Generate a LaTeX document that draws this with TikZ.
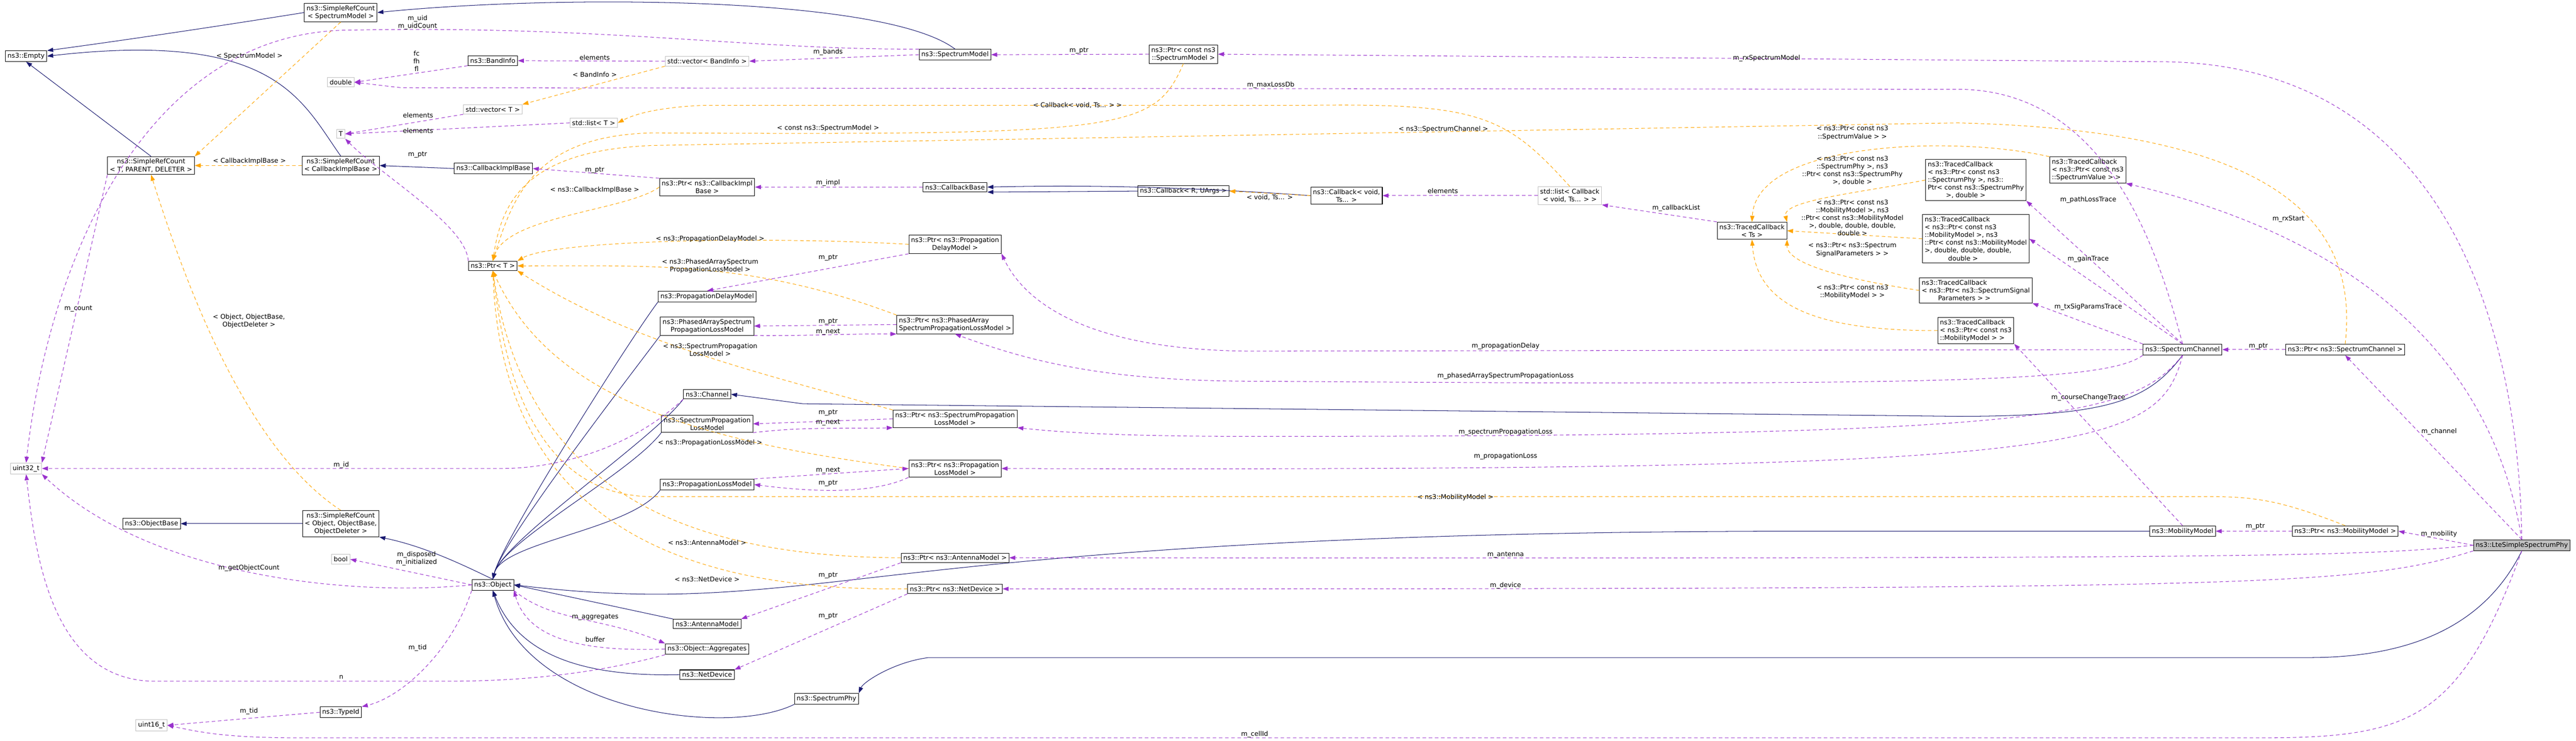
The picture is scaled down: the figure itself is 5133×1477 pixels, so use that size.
\documentclass[tikz,border=0pt]{standalone}
\usepackage{fontspec}
\setmainfont{DejaVu Sans}
\usetikzlibrary{arrows.meta,positioning,calc}

\definecolor{inhcol}{HTML}{191970}
\definecolor{memcol}{HTML}{9A32CD}
\definecolor{tplcol}{HTML}{FFA500}
\definecolor{extcol}{HTML}{BFBFBF}

\tikzset{
  cls/.style={draw=black,fill=white,line width=0.6pt,inner sep=2.5pt,align=center,font=\fontsize{7.4}{8.8}\selectfont},
  clsl/.style={cls,align=left},
  extcls/.style={cls,draw=extcol},
  maincls/.style={cls,fill=extcol},
  lbl/.style={inner sep=0pt,align=center,font=\fontsize{7.4}{8.8}\selectfont},
  inh/.style={draw=inhcol,line width=0.6pt,-{Triangle[length=0.24cm,width=0.17cm]}},
  mem/.style={draw=memcol,line width=0.6pt,dash pattern=on 4pt off 3pt,-{Triangle[length=0.24cm,width=0.17cm]}},
  tpl/.style={draw=tplcol,line width=0.6pt,dash pattern=on 4pt off 3pt,-{Triangle[length=0.24cm,width=0.17cm]}},
}

\begin{document}
\begin{tikzpicture}[x=0.02cm,y=-0.02cm]
\useasboundingbox (0,0) rectangle (5133,1477);

% classes, left part
\node[cls] (empty) at (52,112) {ns3::Empty};
\node[cls] (srcsm) at (679,25) {ns3::SimpleRefCount\\< SpectrumModel >};
\node[extcls] (dbl) at (679,164) {double};
\node[cls] (band) at (982,121) {ns3::BandInfo};
\node[extcls] (vect) at (982,218) {std::vector< T >};
\node[extcls] (listt) at (1183,245) {std::list< T >};
\node[extcls] (tt) at (679,267) {T};
\node[cls] (srctpd) at (301,330) {ns3::SimpleRefCount\\< T, PARENT, DELETER >};
\node[cls] (srccib) at (679,330) {ns3::SimpleRefCount\\< CallbackImplBase >};
\node[cls] (cib) at (983,336) {ns3::CallbackImplBase};
\node[extcls] (vecband) at (1409,122) {std::vector< BandInfo >};
\node[cls] (smodel) at (1903,109) {ns3::SpectrumModel};
\node[cls] (ptrsm) at (2358,108) {ns3::Ptr< const ns3\\::SpectrumModel >};
\node[cls] (ptrcib) at (1409,373) {ns3::Ptr< ns3::CallbackImpl\\Base >};
\node[cls] (cbbase) at (1903,373) {ns3::CallbackBase};
\node[cls] (cbru) at (2358,381) {ns3::Callback< R, UArgs >};
\node[cls] (cbvoid) at (2683,390) {ns3::Callback< void,\\Ts... >};
\node[extcls] (listcb) at (3128,390) {std::list< Callback\\< void, Ts... > >};
\node[cls] (tcts) at (3491,460) {ns3::TracedCallback\\< Ts >};
\node[cls] (ptrt) at (982,530) {ns3::Ptr< T >};

% propagation models
\node[cls] (ptrpdm) at (1903,487) {ns3::Ptr< ns3::Propagation\\DelayModel >};
\node[cls] (pdm) at (1409,591) {ns3::PropagationDelayModel};
\node[cls] (pasplm) at (1409,650) {ns3::PhasedArraySpectrum\\PropagationLossModel};
\node[clsl] (ptrpa) at (1903,647) {ns3::Ptr< ns3::PhasedArray\\SpectrumPropagationLossModel >};
\node[cls] (channel) at (1409,786) {ns3::Channel};
\node[cls] (splm) at (1409,845) {ns3::SpectrumPropagation\\LossModel};
\node[cls] (ptrsplm) at (1903,835) {ns3::Ptr< ns3::SpectrumPropagation\\LossModel >};
\node[cls] (ptrplm) at (1903,934) {ns3::Ptr< ns3::Propagation\\LossModel >};
\node[cls] (plm) at (1409,966) {ns3::PropagationLossModel};

% object
\node[extcls] (uint32) at (52,934) {uint32\_t};
\node[cls] (objbase) at (302,1044) {ns3::ObjectBase};
\node[cls] (srcobj) at (679,1044) {ns3::SimpleRefCount\\< Object, ObjectBase,\\ObjectDeleter >};
\node[extcls] (bool) at (679,1115) {bool};
\node[cls] (object) at (982,1166) {ns3::Object};
\node[cls] (typeid) at (679,1420) {ns3::TypeId};
\node[extcls] (uint16) at (302,1446) {uint16\_t};
\node[cls] (antenna) at (1409,1244) {ns3::AntennaModel};
\node[cls] (aggr) at (1409,1294) {ns3::Object::Aggregates};
\node[cls] (netdev) at (1409,1345) {ns3::NetDevice};
\node[cls] (sphy) at (1647,1393) {ns3::SpectrumPhy};
\node[cls] (ptrant) at (1903,1112) {ns3::Ptr< ns3::AntennaModel >};
\node[cls] (ptrnd) at (1903,1174) {ns3::Ptr< ns3::NetDevice >};

% traced callbacks and channel
\node[clsl] (tcsv) at (4160,339) {ns3::TracedCallback\\< ns3::Ptr< const ns3\\ ::SpectrumValue > >};
\node[clsl] (tcsp) at (3937,359) {ns3::TracedCallback\\< ns3::Ptr< const ns3\\::SpectrumPhy >, ns3::\\Ptr< const ns3::SpectrumPhy\\\hspace*{2.8em}>, double >};
\node[clsl] (tcmob4) at (3937,476) {ns3::TracedCallback\\< ns3::Ptr< const ns3\\::MobilityModel >, ns3\\::Ptr< const ns3::MobilityModel\\ >, double, double, double,\\\hspace*{3.6em}double >};
\node[clsl] (tcssp) at (3937,579) {ns3::TracedCallback\\< ns3::Ptr< ns3::SpectrumSignal\\\hspace*{2.5em}Parameters > >};
\node[clsl] (tcmob) at (3937,659) {ns3::TracedCallback\\< ns3::Ptr< const ns3\\ ::MobilityModel > >};
\node[cls] (schan) at (4349,697) {ns3::SpectrumChannel};
\node[cls] (ptrsc) at (4673,697) {ns3::Ptr< ns3::SpectrumChannel >};
\node[cls] (mob) at (4349,1059) {ns3::MobilityModel};
\node[cls] (ptrmob) at (4673,1059) {ns3::Ptr< ns3::MobilityModel >};
\node[maincls] (lte) at (5025,1087) {ns3::LteSimpleSpectrumPhy};

% inheritance
\draw[inh] (srcsm.west) .. controls (450,50) and (250,80) .. (empty.north east);
\draw[inh] (srccib.north) .. controls (600,200) and (550,60) .. (empty.east);
\draw[inh] (srctpd.north) -- (empty.south);
\draw[inh] (smodel.north) .. controls (1760,-10) and (1100,-10) .. (srcsm.east);
\draw[inh] (cib.west) -- (srccib.east);
\draw[inh] (cbvoid.west) .. controls (2300,368) and (2100,370) .. (cbbase.east);
\draw[inh] (cbru.west) -- (cbbase.south east);
\draw[inh] (srcobj.west) -- (objbase.east);
\draw[inh] (object.north) .. controls (930,1130) and (850,1090) .. (srcobj.south east);
\foreach \n in {pdm,pasplm,channel,splm,plm} {
  \draw[inh] (\n.south west) .. controls ($(\n.south west)+(-60,80)$) and (1000,1080) .. (object.north);
}
\draw[inh] (antenna.north west) -- (object.east);
\draw[inh] (netdev.west) .. controls (1150,1350) and (1030,1300) .. (object.south);
\draw[inh] (sphy.south west) .. controls (1450,1470) and (1050,1420) .. (object.south);
\draw[inh] (mob.west) -- (3600,1059) .. controls (1700,1059) and (1650,1240) .. (object.east);
\draw[inh] (schan.south) .. controls (4280,800) and (4200,830) .. (3900,830) -- (1600,805) -- (channel.east);
\draw[inh] (lte.south) .. controls (4950,1250) and (4800,1311) .. (4600,1311) -- (1850,1311) .. controls (1780,1320) and (1720,1360) .. (sphy.north east);

% templates
\draw[tpl] (srcsm.south) -- (srctpd.north east);
\draw[tpl] (srccib.west) -- (srctpd.east);
\draw[tpl] (srcobj.north) .. controls (500,900) and (380,600) .. (srctpd.south);
\draw[tpl] (vecband.south west) -- (vect.north east);
\draw[tpl] (listcb.north) .. controls (3000,230) and (2950,205) .. (2600,210) -- (1400,210) .. controls (1300,215) and (1260,230) .. (listt.east);
\draw[tpl] (cbvoid.west) -- (cbru.east);
\draw[tpl] (ptrsm.south) .. controls (2300,260) and (2250,270) .. (1300,265) .. controls (1060,270) and (1020,400) .. (ptrt.north);
\draw[tpl] (ptrcib.west) .. controls (1250,420) and (1010,430) .. (ptrt.north);
\draw[tpl] (ptrpdm.west) .. controls (1500,470) and (1100,480) .. (ptrt.north east);
\draw[tpl] (ptrpa.north west) .. controls (1500,520) and (1300,530) .. (ptrt.east);
\draw[tpl] (ptrsplm.north west) .. controls (1500,740) and (1250,680) .. (ptrt.south east);
\draw[tpl] (ptrplm.west) .. controls (1400,880) and (1100,800) .. (ptrt.south);
\draw[tpl] (ptrant.west) .. controls (1400,1110) and (1050,1000) .. (ptrt.south);
\draw[tpl] (ptrnd.west) .. controls (1300,1180) and (1000,1000) .. (ptrt.south);
\draw[tpl] (ptrmob.north) .. controls (4550,1000) and (4500,990) .. (4400,990) -- (1300,990) .. controls (1050,990) and (1000,700) .. (ptrt.south);
\draw[tpl] (ptrsc.north) .. controls (4700,450) and (4550,260) .. (3900,245) -- (1300,290) .. controls (1050,300) and (1000,400) .. (ptrt.north);
\draw[tpl] (tcsv.north west) .. controls (3900,270) and (3500,280) .. (tcts.north);
\draw[tpl] (tcsp.west) .. controls (3700,385) and (3550,400) .. (tcts.north east);
\draw[tpl] (tcmob4.west) -- (tcts.east);
\draw[tpl] (tcssp.west) .. controls (3700,560) and (3560,530) .. (tcts.south east);
\draw[tpl] (tcmob.west) .. controls (3600,660) and (3500,600) .. (tcts.south);

% members
\draw[mem] (smodel.north west) .. controls (1500,100) and (1200,50) .. (700,60) .. controls (300,60) and (100,500) .. (uint32.north);
\draw[mem] (band.south west) -- (dbl.east);
\draw[mem] (vecband.west) -- (band.east);
\draw[mem] (smodel.west) -- (vecband.east);
\draw[mem] (ptrsm.west) -- (smodel.east);
\draw[mem] (vect.south west) -- (tt.east);
\draw[mem] (listt.west) -- (tt.east);
\draw[mem] (ptrt.north west) .. controls (930,450) and (760,350) .. (tt.south east);
\draw[mem] (ptrcib.north west) -- (cib.east);
\draw[mem] (cbbase.west) -- (ptrcib.east);
\draw[mem] (listcb.west) -- (cbvoid.east);
\draw[mem] (tcts.north west) -- (listcb.south east);
\draw[mem] (ptrpdm.south west) -- (pdm.north);
\draw[mem] (ptrpa.west) -- (pasplm.east);
\draw[mem] (pasplm.south east) .. controls (1600,670) and (1700,665) .. (ptrpa.south west);
\draw[mem] (ptrsplm.west) -- (splm.east);
\draw[mem] (splm.south east) .. controls (1600,850) and (1700,855) .. (ptrsplm.south west);
\draw[mem] (plm.north east) -- (ptrplm.west);
\draw[mem] (ptrplm.south west) .. controls (1750,980) and (1650,985) .. (plm.east);
\draw[mem] (ptrant.south west) -- (antenna.north east);
\draw[mem] (ptrnd.south west) -- (netdev.north east);
\draw[mem] (object.south east) .. controls (1100,1240) and (1200,1230) .. (aggr.north west);
\draw[mem] (aggr.west) .. controls (1150,1300) and (1050,1270) .. (object.south east);
\draw[mem] (object.west) -- (bool.east);
\draw[mem] (object.west) .. controls (700,1190) and (300,1150) .. (uint32.south east);
\draw[mem] (object.south west) .. controls (900,1300) and (800,1390) .. (typeid.north east);
\draw[mem] (typeid.west) -- (uint16.east);
\draw[mem] (srctpd.south west) -- (uint32.north east);
\draw[mem] (channel.south west) .. controls (1250,900) and (1100,934) .. (1000,934) -- (uint32.east);
\draw[mem] (aggr.south west) .. controls (1200,1340) and (1050,1358) .. (900,1358) -- (300,1358) .. controls (100,1350) and (70,1100) .. (uint32.south);
\draw[mem] (lte.south) .. controls (4900,1440) and (4800,1471) .. (4500,1471) -- (600,1471) .. controls (450,1471) and (400,1460) .. (uint16.east);
\draw[mem] (lte.north) .. controls (5020,700) and (4900,123) .. (4300,123) -- (ptrsm.east);
\draw[mem] (schan.north) .. controls (4300,500) and (4200,178) .. (3900,178) -- (800,175) -- (dbl.east);
\draw[mem] (schan.north) -- (tcsp.south east);
\draw[mem] (schan.north) -- (tcmob4.east);
\draw[mem] (schan.north west) -- (tcssp.south east);
\draw[mem] (mob.north) -- (tcmob.south east);
\draw[mem] (schan.west) -- (2500,700) .. controls (2200,700) and (2050,620) .. (ptrpdm.south east);
\draw[mem] (schan.south west) .. controls (4200,760) and (3900,770) .. (2500,760) .. controls (2200,760) and (2050,720) .. (ptrpa.south);
\draw[mem] (schan.south) .. controls (4250,830) and (4100,870) .. (2500,870) .. controls (2200,870) and (2100,860) .. (ptrsplm.south east);
\draw[mem] (schan.south) .. controls (4300,900) and (4150,940) .. (ptrplm.east);
\draw[mem] (lte.north) .. controls (4980,800) and (4800,500) .. (tcsv.south east);
\draw[mem] (ptrsc.west) -- (schan.east);
\draw[mem] (lte.north) -- (ptrsc.south);
\draw[mem] (ptrmob.west) -- (mob.east);
\draw[mem] (lte.west) -- (ptrmob.east);
\draw[mem] (lte.west) .. controls (4700,1110) and (4500,1114) .. (ptrant.east);
\draw[mem] (lte.south west) .. controls (4700,1170) and (4500,1174) .. (ptrnd.east);

% edge labels
\node[lbl] (lsmsrc) at (497,112) {< SpectrumModel >};
\node[lbl] (lcibsrc) at (497,321) {< CallbackImplBase >};
\node[lbl] (lobjsrc) at (496,640) {< Object, ObjectBase,\\ObjectDeleter >};
\node[lbl] (lband) at (1185,149) {< BandInfo >};
\node[lbl] (llistcb) at (2147,210) {< Callback< void, Ts... > >};
\node[lbl] (lvoid) at (2530,394) {< void, Ts... >};
\node[lbl] (lconstsm) at (1650,256) {< const ns3::SpectrumModel >};
\node[lbl] (lcibptr) at (1185,379) {< ns3::CallbackImplBase >};
\node[lbl] (lpdm) at (1415,476) {< ns3::PropagationDelayModel >};
\node[lbl] (lpa) at (1415,530) {< ns3::PhasedArraySpectrum\\PropagationLossModel >};
\node[lbl] (lsplm) at (1415,697) {< ns3::SpectrumPropagation\\LossModel >};
\node[lbl] (lplm) at (1415,883) {< ns3::PropagationLossModel >};
\node[lbl] (lant) at (1409,1082) {< ns3::AntennaModel >};
\node[lbl] (lnd) at (1409,1155) {< ns3::NetDevice >};
\node[lbl] (lmob) at (2900,992) {< ns3::MobilityModel >};
\node[lbl] (lsc) at (2876,258) {< ns3::SpectrumChannel >};
\node[lbl] (ltcsv) at (3691,265) {< ns3::Ptr< const ns3\\::SpectrumValue > >};
\node[lbl] (ltcsp) at (3691,340) {< ns3::Ptr< const ns3\\::SpectrumPhy >, ns3\\::Ptr< const ns3::SpectrumPhy\\>, double >};
\node[lbl] (ltcmob4) at (3691,434) {< ns3::Ptr< const ns3\\::MobilityModel >, ns3\\::Ptr< const ns3::MobilityModel\\>, double, double, double,\\double >};
\node[lbl] (ltcssp) at (3691,498) {< ns3::Ptr< ns3::Spectrum\\SignalParameters > >};
\node[lbl] (ltcmob) at (3691,582) {< ns3::Ptr< const ns3\\::MobilityModel > >};
\node[lbl] (luid) at (832,45) {m\_uid\\m\_uidCount};
\node[lbl] (lf) at (830,122) {fc\\fh\\fl};
\node[lbl] (lel1) at (1185,115) {elements};
\node[lbl] (lbands) at (1650,104) {m\_bands};
\node[lbl] (lptr1) at (2150,101) {m\_ptr};
\node[lbl] (lel2) at (833,230) {elements};
\node[lbl] (lel3) at (833,261) {elements};
\node[lbl] (lptr2) at (832,309) {m\_ptr};
\node[lbl] (lptr3) at (1185,339) {m\_ptr};
\node[lbl] (limpl) at (1650,365) {m\_impl};
\node[lbl] (lel4) at (2875,381) {elements};
\node[lbl] (lcbl) at (3340,415) {m\_callbackList};
\node[lbl] (lptr4) at (1650,514) {m\_ptr};
\node[lbl] (lptr5) at (1650,641) {m\_ptr};
\node[lbl] (lnext1) at (1650,662) {m\_next};
\node[lbl] (lptr6) at (1650,823) {m\_ptr};
\node[lbl] (lnext2) at (1650,842) {m\_next};
\node[lbl] (lnext3) at (1650,938) {m\_next};
\node[lbl] (lptr7) at (1650,963) {m\_ptr};
\node[lbl] (lptr8) at (1650,1147) {m\_ptr};
\node[lbl] (lptr9) at (1650,1228) {m\_ptr};
\node[lbl] (laggr) at (1186,1230) {m\_aggregates};
\node[lbl] (lbuf) at (1186,1275) {buffer};
\node[lbl] (ldisp) at (830,1114) {m\_disposed\\m\_initialized};
\node[lbl] (lgoc) at (496,1133) {m\_getObjectCount};
\node[lbl] (ltid1) at (832,1292) {m\_tid};
\node[lbl] (ltid2) at (496,1418) {m\_tid};
\node[lbl] (lcount) at (156,615) {m\_count};
\node[lbl] (lid) at (680,927) {m\_id};
\node[lbl] (ln) at (680,1350) {n};
\node[lbl] (lcell) at (2500,1464) {m\_cellId};
\node[lbl] (lrxsm) at (3520,116) {m\_rxSpectrumModel};
\node[lbl] (lmaxloss) at (2532,170) {m\_maxLossDb};
\node[lbl] (lpath) at (4161,398) {m\_pathLossTrace};
\node[lbl] (lgain) at (4161,517) {m\_gainTrace};
\node[lbl] (ltxsig) at (4161,612) {m\_txSigParamsTrace};
\node[lbl] (lcourse) at (4161,793) {m\_courseChangeTrace};
\node[lbl] (ldelay) at (3000,690) {m\_propagationDelay};
\node[lbl] (lphased) at (3000,750) {m\_phasedArraySpectrumPropagationLoss};
\node[lbl] (lsploss) at (3000,862) {m\_spectrumPropagationLoss};
\node[lbl] (lploss) at (3000,910) {m\_propagationLoss};
\node[lbl] (lrxstart) at (4560,437) {m\_rxStart};
\node[lbl] (lptr10) at (4500,690) {m\_ptr};
\node[lbl] (lchan) at (4860,860) {m\_channel};
\node[lbl] (lptr11) at (4494,1050) {m\_ptr};
\node[lbl] (lmobil) at (4860,1065) {m\_mobility};
\node[lbl] (lant2) at (3000,1106) {m\_antenna};
\node[lbl] (ldev) at (3000,1167) {m\_device};
\end{tikzpicture}
\end{document}
